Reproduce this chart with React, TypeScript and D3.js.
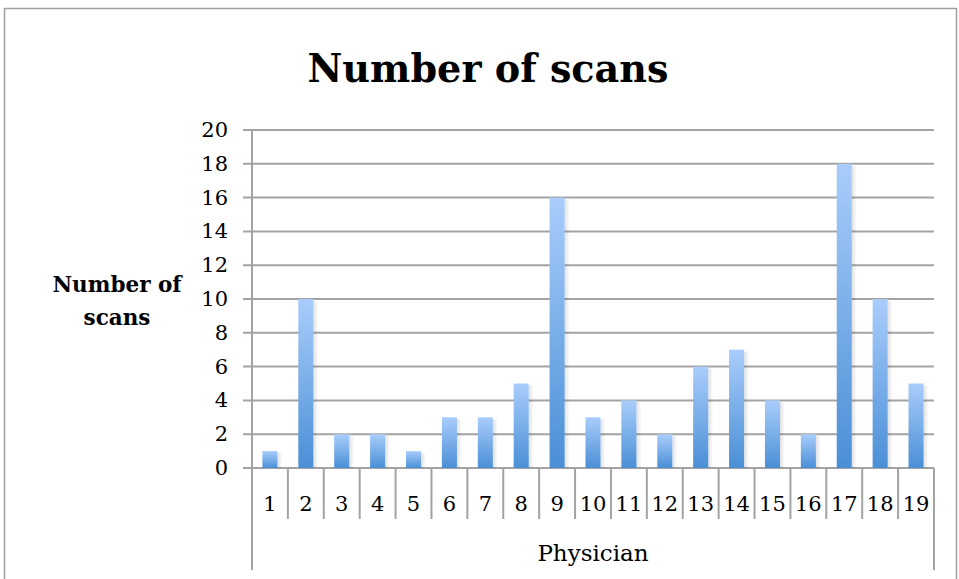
import React from 'react'
import { scaleBand, scaleLinear, range } from 'd3'

const physicians: string[] = ['1', '2', '3', '4', '5', '6', '7', '8', '9', '10', '11', '12', '13', '14', '15', '16', '17', '18', '19']
const scans: number[] = [1, 10, 2, 2, 1, 3, 3, 5, 16, 3, 4, 2, 6, 7, 4, 2, 18, 10, 5]
const yTicks: number[] = [0, 2, 4, 6, 8, 10, 12, 14, 16, 18, 20]

const W = 959
const H = 579
const M = { top: 130, left: 252, right: 25, bottom: 111 }
const FONT = '"DejaVu Serif", "Liberation Serif", serif'
const GRID = '#a3a3a3'

export default function App() {
  const iw = W - M.left - M.right
  const ih = H - M.top - M.bottom

  const x = scaleBand<string>().domain(physicians).range([0, iw]).paddingInner(0).paddingOuter(0)
  const y = scaleLinear().domain([0, 20]).range([ih, 0])
  const bw = x.bandwidth() * 0.42

  return (
    <svg width={W} height={H} style={{ position: 'absolute', left: 0, top: 0 }} fontFamily={FONT}>
      <defs>
        <linearGradient id="bar" x1={0} x2={0} y1={0} y2={1}>
          <stop offset="0%" stopColor="#a9cdfb" />
          <stop offset="100%" stopColor="#4a8fd6" />
        </linearGradient>
        <linearGradient id="shadow" x1={0} x2={1} y1={0} y2={0}>
          <stop offset="0%" stopColor="rgba(0,0,0,0.12)" />
          <stop offset="100%" stopColor="rgba(0,0,0,0)" />
        </linearGradient>
      </defs>
      <rect x={4.5} y={8.5} width={952} height={620} fill="#fff" stroke="#a0a0a0" strokeWidth={1.5} />

      <text x={488} y={82} textAnchor="middle" fontSize={39} fontWeight="bold" fill="#000" textLength={361} lengthAdjust="spacingAndGlyphs">
        Number of scans
      </text>

      <g transform={`translate(${M.left},${M.top})`}>
        {yTicks.map((t) => (
          <g key={t}>
            <line x1={-9} x2={iw} y1={y(t)} y2={y(t)} stroke={GRID} strokeWidth={2} />
            <text x={-24} y={y(t) + 7} textAnchor="end" fontSize={21} fill="#000">
              {t}
            </text>
          </g>
        ))}
        <line x1={0} x2={0} y1={0} y2={ih + 102} stroke={GRID} strokeWidth={2} />
        <line x1={iw} x2={iw} y1={ih} y2={ih + 102} stroke={GRID} strokeWidth={2} />
        {range(1, physicians.length).map((i) => (
          <line key={i} x1={x(physicians[i])!} x2={x(physicians[i])!} y1={ih} y2={ih + 51} stroke={GRID} strokeWidth={2} />
        ))}

        {scans.map((v, i) => {
          const cx = x(physicians[i])! + x.bandwidth() / 2
          return (
            <g key={i}>
              <rect x={cx + bw / 2} y={y(v) + 2} width={5} height={ih - y(v) - 2} fill="url(#shadow)" />
              <rect x={cx - bw / 2} y={y(v)} width={bw} height={ih - y(v)} fill="url(#bar)" />
            </g>
          )
        })}

        {physicians.map((p) => (
          <text key={p} x={x(p)! + x.bandwidth() / 2} y={ih + 43} textAnchor="middle" fontSize={21} fill="#000">
            {p}
          </text>
        ))}
        <text x={iw / 2} y={ih + 93} textAnchor="middle" fontSize={23} fill="#000">
          Physician
        </text>
      </g>

      <text x={117} y={292} textAnchor="middle" fontSize={21.5} fontWeight="bold" fill="#000">
        Number of
      </text>
      <text x={117} y={325} textAnchor="middle" fontSize={21.5} fontWeight="bold" fill="#000">
        scans
      </text>
    </svg>
  )
}
